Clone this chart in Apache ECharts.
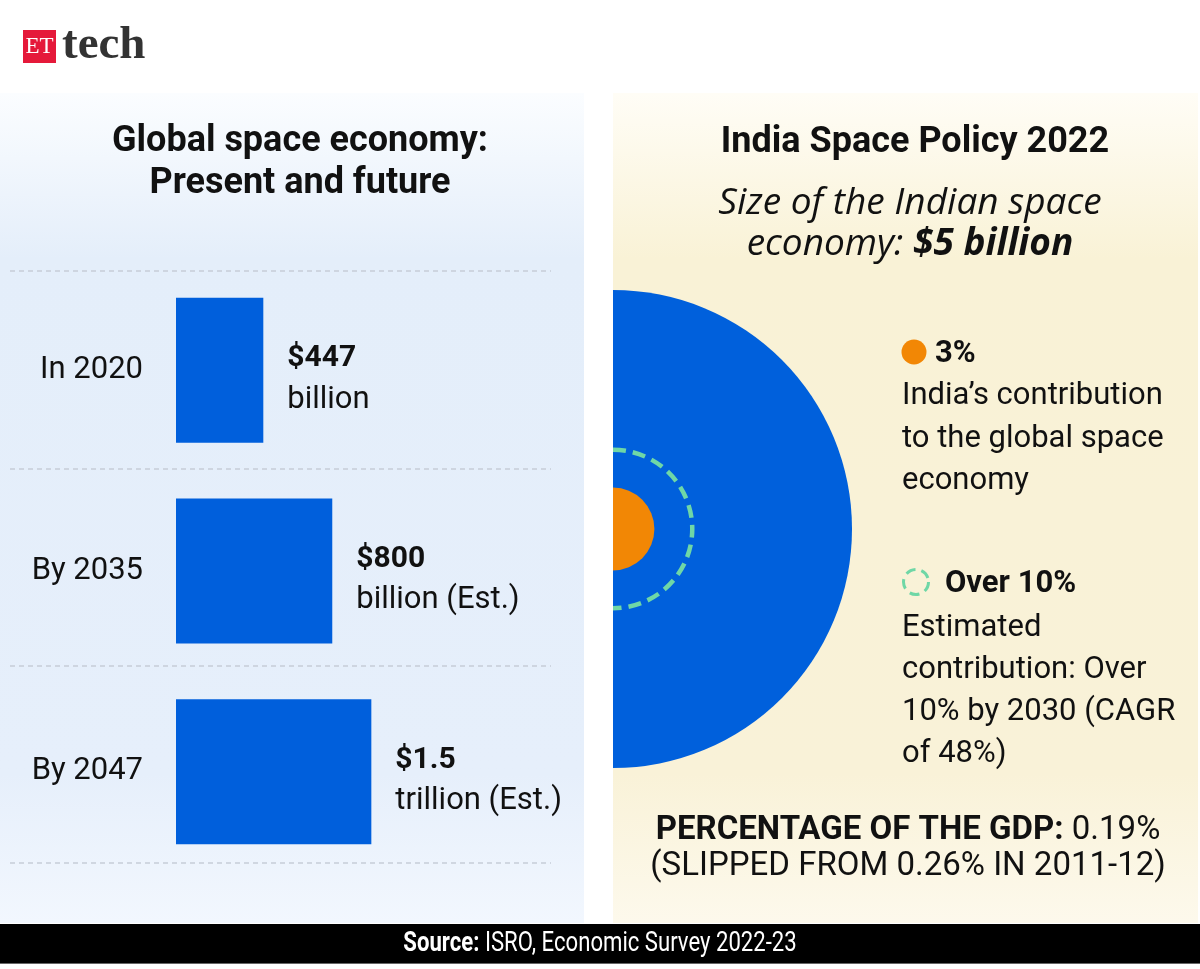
<!DOCTYPE html>
<html><head><meta charset="utf-8">
<script src="https://cdn.jsdelivr.net/npm/echarts@6/dist/echarts.min.js"></script>
<style>html,body{margin:0;padding:0;background:#fff}#c{width:1200px;height:969px}</style>
</head><body><div id="c"></div>
<script>
// ---- data ----
const periods = ['In 2020', 'By 2035', 'By 2047'];
const marketValues = [447, 800, 1500];            // global space economy, $ billion
const valueAmounts = ['$447', '$800', '$1.5'];
const valueUnits = ['billion', 'billion (Est.)', 'trillion (Est.)'];
const shareNames = ['Global space economy', 'India by 2030 (est.)', 'India today'];
const shareValues = [100, 11, 3];                   // % of the global space economy (area of circle)

const FONT = 'Roboto, "Noto Sans", sans-serif';
const BLUE = '#005fdc';

const chart = echarts.init(document.getElementById('c'), null, {renderer: 'canvas'});

const leftBg = new echarts.graphic.LinearGradient(0, 0, 0, 1, [
  {offset: 0, color: '#fbfdff'}, {offset: 0.2, color: '#e4eefa'},
  {offset: 0.82, color: '#e6effb'}, {offset: 1, color: '#f2f7fe'}]);
const rightBg = new echarts.graphic.LinearGradient(0, 0, 0, 1, [
  {offset: 0, color: '#fffdf6'}, {offset: 0.2, color: '#f9f2d6'},
  {offset: 0.82, color: '#f9f2d8'}, {offset: 1, color: '#fdf9ec'}]);

const option = {
  backgroundColor: '#ffffff',
  animation: false,
  grid: [
    {left: 10, top: 271, width: 541, height: 592},          // divider lines
    {left: 176, top: 270, width: 293, height: 602},         // bars
    {left: 613, top: 290, width: 239, height: 478}          // circles
  ],
  xAxis: [
    {gridIndex: 0, type: 'value', show: false},
    {gridIndex: 1, type: 'value', min: 0, max: 2000, show: false,
      breaks: [{start: 1000, end: 1500, gap: 0}], breakArea: {show: false}},
    {gridIndex: 2, type: 'value', min: 0, max: 10, show: false}
  ],
  yAxis: [
    {gridIndex: 0, type: 'category', data: periods, inverse: true,
      axisLine: {show: false}, axisTick: {show: false}, axisLabel: {show: false},
      splitLine: {show: true, lineStyle: {color: '#c6cdd7', width: 1.5, type: [5, 4]}}},
    {gridIndex: 1, type: 'category', data: periods, inverse: true,
      axisLine: {show: false}, axisTick: {show: false}, splitLine: {show: false},
      axisLabel: {margin: 33, fontSize: 31, color: '#111', fontFamily: FONT, padding: [12, 0, 0, 0]}},
    {gridIndex: 2, type: 'value', min: -10, max: 10, show: false}
  ],
  series: [
    {
      type: 'bar', xAxisIndex: 1, yAxisIndex: 1, data: marketValues,
      barWidth: 145, itemStyle: {color: BLUE},
      label: {
        show: true, position: 'right', distance: 24, offset: [0, 9],
        formatter: p => '{a|' + valueAmounts[p.dataIndex] + '}\n{u|' + valueUnits[p.dataIndex] + '}',
        rich: {
          a: {fontSize: 30, fontWeight: 'bold', color: '#111', fontFamily: FONT, lineHeight: 41},
          u: {fontSize: 31, color: '#111', fontFamily: FONT, lineHeight: 41}
        }
      }
    },
    {
      type: 'custom', xAxisIndex: 2, yAxisIndex: 2,
      data: shareValues.map((v, i) => ({name: shareNames[i], value: [0, 0, v]})),
      renderItem: function (params, api) {
        const c = api.coord([api.value(0), api.value(1)]);
        const r = api.size([Math.sqrt(api.value(2)), 0])[0];
        const i = params.dataIndex;
        if (i === 1) {
          return {type: 'arc', shape: {cx: c[0], cy: c[1], r: r, startAngle: -Math.PI / 2, endAngle: Math.PI / 2, clockwise: true},
            style: {stroke: '#6fd7a6', lineWidth: 4.5, lineDash: [13, 7], fill: 'none'}};
        }
        return {type: 'sector', shape: {cx: c[0], cy: c[1], r0: 0, r: r, startAngle: -Math.PI / 2, endAngle: Math.PI / 2, clockwise: true},
          style: {fill: i === 0 ? '#0060dc' : '#f28705'}};
      }
    }
  ],
  graphic: [
    {type: 'rect', z: -10, shape: {x: 0, y: 93, width: 584, height: 830}, style: {fill: leftBg}},
    {type: 'rect', z: -10, shape: {x: 613, y: 93, width: 585, height: 830}, style: {fill: rightBg}},
    // logo
    {type: 'rect', z: 10, shape: {x: 23, y: 30, width: 33, height: 33}, style: {fill: '#e5193a'}},
    {type: 'text', z: 11, x: 39.5, y: 47, style: {text: 'ET', fill: '#fff', font: '23px "Liberation Serif", "DejaVu Serif", serif', align: 'center', verticalAlign: 'middle'}},
    {type: 'text', z: 11, x: 62, y: 46, style: {text: 'tech', fill: '#333', font: 'bold 47px "Liberation Serif", "DejaVu Serif", serif', align: 'left', verticalAlign: 'middle'}},
    // left title
    {type: 'text', z: 11, x: 300, y: 121, style: {text: 'Global space economy:\nPresent and future', fill: '#111', font: 'bold 36px ' + FONT, lineHeight: 42, align: 'center', verticalAlign: 'top'}},
    // right title
    {type: 'text', z: 11, x: 915, y: 143, style: {text: 'India Space Policy 2022', fill: '#111', font: 'bold 36px ' + FONT, align: 'center', verticalAlign: 'middle'}},
    {type: 'text', z: 11, x: 910, y: 183, style: {
      text: 'Size of the Indian space\neconomy: {b|$5 billion}', fill: '#111',
      font: 'italic 37px "Open Sans", ' + FONT, lineHeight: 41, align: 'center', verticalAlign: 'top',
      rich: {b: {font: 'italic bold 37px "Open Sans", ' + FONT, fill: '#111', lineHeight: 41}}}},
    // legend 1
    {type: 'circle', z: 11, shape: {cx: 914, cy: 352, r: 12.5}, style: {fill: '#f28705'}},
    {type: 'text', z: 11, x: 935, y: 354, style: {text: '3%', fill: '#111', font: 'bold 31px ' + FONT, align: 'left', verticalAlign: 'middle'}},
    {type: 'text', z: 11, x: 902, y: 375, style: {text: 'India’s contribution\nto the global space\neconomy', fill: '#111', font: '31px ' + FONT, lineHeight: 42.5, align: 'left', verticalAlign: 'top'}},
    // legend 2
    {type: 'circle', z: 11, shape: {cx: 916, cy: 582, r: 12.5}, style: {fill: 'none', stroke: '#6fd7a6', lineWidth: 3, lineDash: [10, 6]}},
    {type: 'text', z: 11, x: 945, y: 584, style: {text: 'Over 10%', fill: '#111', font: 'bold 31px ' + FONT, align: 'left', verticalAlign: 'middle'}},
    {type: 'text', z: 11, x: 902, y: 607, style: {text: 'Estimated\ncontribution: Over\n10% by 2030 (CAGR\nof 48%)', fill: '#111', font: '31px ' + FONT, lineHeight: 42, align: 'left', verticalAlign: 'top'}},
    // GDP note
    {type: 'text', z: 11, x: 908, y: 813, style: {
      text: '{b|PERCENTAGE OF THE GDP:} 0.19%\n(SLIPPED FROM 0.26% IN 2011-12)', fill: '#111',
      font: '33px ' + FONT, lineHeight: 36, align: 'center', verticalAlign: 'top',
      rich: {b: {font: 'bold 33px ' + FONT, fill: '#111', lineHeight: 36}}}},
    // footer
    {type: 'rect', z: 10, shape: {x: 0, y: 924, width: 1200, height: 39}, style: {fill: '#000'}},
    {type: 'rect', z: 10, shape: {x: 0, y: 963, width: 1200, height: 1}, style: {fill: '#666'}},
    {type: 'text', z: 11, x: 600, y: 944, scaleX: 0.79, style: {
      text: '{b|Source:} ISRO, Economic Survey 2022-23', fill: '#fff',
      font: '28px ' + FONT, align: 'center', verticalAlign: 'middle',
      rich: {b: {font: 'bold 28px ' + FONT, fill: '#fff'}}}}
  ]
};
chart.setOption(option);
</script>
</body></html>
